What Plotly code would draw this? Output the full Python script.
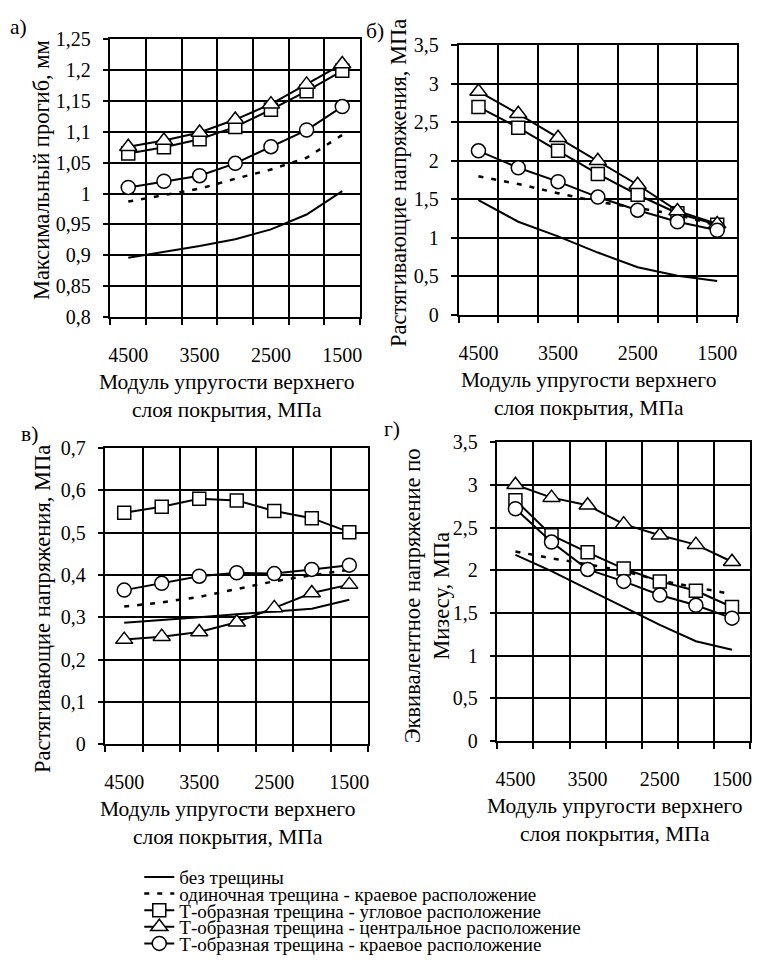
import plotly.graph_objects as go

W, H = 760, 978

# ---------------- data ----------------
modulus = [4500, 4000, 3500, 3000, 2500, 2000, 1500]
xtick_vals = [4500, 3500, 2500, 1500]
xtick_text = ["4500", "3500", "2500", "1500"]

series_names = [
    "без трещины",
    "одиночная трещина - краевое расположение",
    "Т-образная трещина - угловое расположение",
    "Т-образная трещина - центральное расположение",
    "Т-образная трещина - краевое расположение",
]

# а) максимальный прогиб, мм
a_none   = [0.896, 0.905, 0.915, 0.926, 0.942, 0.966, 1.004]
a_single = [0.987, 0.998, 1.008, 1.024, 1.039, 1.058, 1.095]
a_corner = [1.065, 1.075, 1.088, 1.108, 1.136, 1.166, 1.199]
a_center = [1.076, 1.086, 1.099, 1.120, 1.145, 1.177, 1.210]
a_edge   = [1.010, 1.020, 1.029, 1.049, 1.076, 1.103, 1.141]

# б) растягивающие напряжения, МПа
b_none   = [1.49, 1.21, 1.02, 0.81, 0.62, 0.51, 0.44]
b_single = [1.80, 1.70, 1.58, 1.47, 1.39, 1.30, 1.16]
b_corner = [2.70, 2.43, 2.13, 1.83, 1.56, 1.32, 1.17]
b_center = [2.90, 2.61, 2.30, 2.00, 1.69, 1.35, 1.18]
b_edge   = [2.13, 1.91, 1.73, 1.53, 1.36, 1.21, 1.10]

# в) растягивающие напряжения, МПа
c_none   = [0.287, 0.293, 0.300, 0.307, 0.314, 0.320, 0.341]
c_single = [0.325, 0.335, 0.348, 0.366, 0.385, 0.399, 0.412]
c_corner = [0.547, 0.561, 0.580, 0.576, 0.551, 0.534, 0.501]
c_center = [0.247, 0.254, 0.265, 0.288, 0.322, 0.357, 0.377]
c_edge   = [0.364, 0.380, 0.397, 0.405, 0.403, 0.413, 0.423]

# г) эквивалентное напряжение по Мизесу, МПа
d_none   = [2.18, 1.99, 1.78, 1.57, 1.36, 1.17, 1.07]
d_single = [2.22, 2.14, 2.07, 1.99, 1.88, 1.80, 1.72]
d_corner = [2.82, 2.41, 2.21, 2.02, 1.87, 1.76, 1.57]
d_center = [3.00, 2.85, 2.76, 2.54, 2.41, 2.30, 2.10]
d_edge   = [2.72, 2.33, 2.01, 1.87, 1.71, 1.59, 1.44]

panels = [
    dict(data=[a_none, a_single, a_corner, a_center, a_edge], yr=(0.8, 1.25), dy=0.05,
         box=(109, 360, 29, 313), label="а)", label_xy=(17, 16),
         ytitle="Максимальный прогиб, мм", ytitle_xy=(40, 163)),
    dict(data=[b_none, b_single, b_corner, b_center, b_edge], yr=(0, 3.5), dy=0.5,
         box=(459, 739, 35, 311), label="б)", label_xy=(375, 20),
         ytitle="Растягивающие напряжения, МПа", ytitle_xy=(398, 176)),
    dict(data=[c_none, c_single, c_corner, c_center, c_edge], yr=(0, 0.7), dy=0.1,
         box=(104, 368, 447, 750), label="в)", label_xy=(28, 433),
         ytitle="Растягивающие напряжения, МПа", ytitle_xy=(40, 612)),
    dict(data=[d_none, d_single, d_corner, d_center, d_edge], yr=(0, 3.5), dy=0.5,
         box=(498, 752, 441, 747), label="г)", label_xy=(392, 428),
         ytitle="Эквивалентное напряжение по<br>Мизесу, МПа", ytitle_xy=(427, 598)),
]

styles = [
    dict(mode="lines", line=dict(color="black", width=2)),
    dict(mode="lines", line=dict(color="black", width=2.5, dash="5px,8px")),
    dict(mode="lines+markers", line=dict(color="black", width=2),
         marker=dict(symbol="square", size=13, color="white", line=dict(color="black", width=1.5))),
    dict(mode="lines+markers", line=dict(color="black", width=2),
         marker=dict(symbol="triangle-up", size=15, color="white", line=dict(color="black", width=1.5))),
    dict(mode="lines+markers", line=dict(color="black", width=2),
         marker=dict(symbol="circle", size=14, color="white", line=dict(color="black", width=1.5))),
]

FONT = "Liberation Serif"
TICK = 20
TITLE = 21.5
YTITLE = 22.5

fig = go.Figure()
step = modulus[0] - modulus[1]
bounds = [m + step / 2 for m in modulus] + [modulus[-1] - step / 2]
legend_rows = [886, 903, 920, 937, 954]

annotations = []
for i, p in enumerate(panels):
    n = "" if i == 0 else str(i + 1)
    x0, x1, y0, y1 = p["box"]
    for k, (vals, st) in enumerate(zip(p["data"], styles)):
        lg = "legend" if k == 0 else f"legend{k + 1}"
        fig.add_trace(go.Scatter(x=modulus, y=vals, name=series_names[k],
                                 xaxis="x" + n, yaxis="y" + n,
                                 showlegend=(i == 0), legend=lg, **st))
    fig.layout["xaxis" + n] = dict(
        domain=[x0 / W, x1 / W], anchor="y" + n,
        range=[bounds[0], bounds[-1]],
        tickmode="array", tickvals=xtick_vals, ticktext=xtick_text,
        showgrid=False, ticks="", ticklabelstandoff=19,
        minor=dict(tickmode="array", tickvals=bounds, showgrid=True, gridcolor="black",
                   gridwidth=1.5, ticks="outside", ticklen=6, tickcolor="black", tickwidth=1.5),
        showline=True, mirror=True, linecolor="black", linewidth=1.5, zeroline=False,
        tickfont=dict(family=FONT, size=TICK, color="black"),
    )
    fig.layout["yaxis" + n] = dict(
        domain=[1 - y1 / H, 1 - y0 / H], anchor="x" + n,
        range=list(p["yr"]), tick0=p["yr"][0], dtick=p["dy"],
        showgrid=True, gridcolor="black", gridwidth=1.5,
        ticks="outside", ticklen=6, tickcolor="black", tickwidth=1.5,
        ticklabelstandoff=8,
        showline=True, mirror=True, linecolor="black", linewidth=1.5, zeroline=False,
        tickfont=dict(family=FONT, size=TICK, color="black"),
    )
    cx = (x0 + x1) / 2 - 9
    annotations.append(dict(text="Модуль упругости верхнего<br>слоя покрытия, МПа",
                            x=cx / W, y=1 - (y1 + 52) / H, xref="paper", yref="paper",
                            xanchor="center", yanchor="top", showarrow=False,
                            font=dict(family=FONT, size=TITLE, color="black")))
    annotations.append(dict(text=p["ytitle"], textangle=-90,
                            x=p["ytitle_xy"][0] / W, y=1 - p["ytitle_xy"][1] / H,
                            xref="paper", yref="paper", xanchor="center", yanchor="middle",
                            showarrow=False, font=dict(family=FONT, size=YTITLE, color="black")))
    annotations.append(dict(text=p["label"], x=p["label_xy"][0] / W, y=1 - p["label_xy"][1] / H,
                            xref="paper", yref="paper", xanchor="center", yanchor="middle",
                            showarrow=False, font=dict(family=FONT, size=TITLE, color="black")))

legend_layout = {}
for k, yr in enumerate(legend_rows):
    key = "legend" if k == 0 else f"legend{k + 1}"
    legend_layout[key] = dict(x=138 / W, y=1 - yr / H, xanchor="left", yanchor="middle",
                              bgcolor="rgba(0,0,0,0)", borderwidth=0,
                              font=dict(family=FONT, size=19, color="black"),
                              itemclick=False)

fig.update_layout(
    width=W, height=H, margin=dict(l=0, r=0, t=0, b=0),
    paper_bgcolor="white", plot_bgcolor="white",
    separators=", ",
    font=dict(family=FONT, color="black"),
    annotations=annotations,
    **legend_layout,
)

fig.write_html("out.html")
